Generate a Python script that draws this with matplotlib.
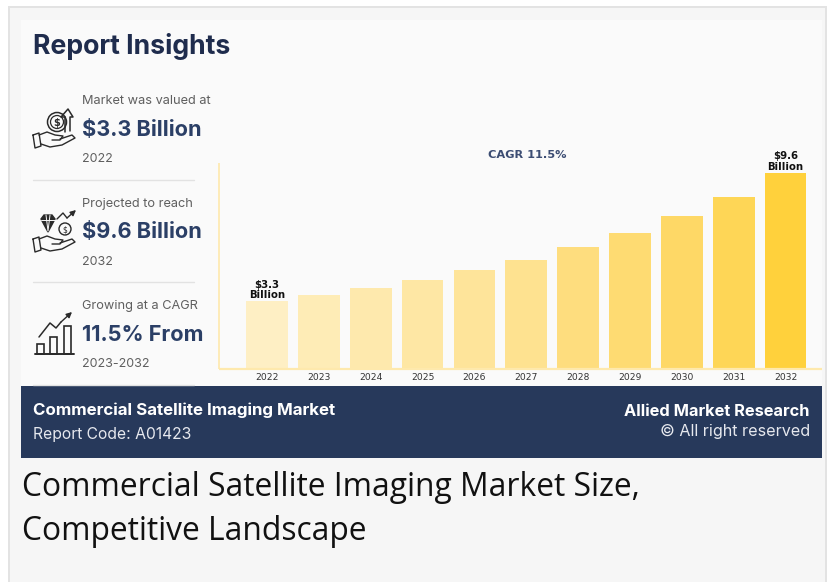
import matplotlib
matplotlib.use('Agg')
import matplotlib.pyplot as plt
from matplotlib.patches import Rectangle, Circle

W, H = 836, 582

years = ['2022', '2023', '2024', '2025', '2026', '2027', '2028', '2029', '2030', '2031', '2032']
market_size = [3.3, 3.6, 3.96, 4.34, 4.83, 5.32, 5.96, 6.68, 7.5, 8.43, 9.6]
bar_colors = ['#feefc4', '#feecb6', '#fee9ad', '#fee7a4', '#fee49a', '#fee290',
              '#fedd7e', '#fedb72', '#fed866', '#fed656', '#ffd13c']
value_labels = {0: '$3.3\nBillion', 10: '$9.6\nBillion'}

stat_captions = ['Market was valued at', 'Projected to reach', 'Growing at a CAGR']
stat_values = ['$3.3 Billion', '$9.6 Billion', '11.5% From']
stat_periods = ['2022', '2032', '2023-2032']

NAVY = '#27395b'
AXIS_YELLOW = '#fee9ad'
UI_FONT = ['Inter', 'DejaVu Sans']


def px_axes(fig, left, top, right, bottom):
    # axes box given in pixels from the top left corner
    return fig.add_axes([left / W, 1 - bottom / H, (right - left) / W, (bottom - top) / H])


def line(ax, pts, lw=1.0, color='#2a2a2a'):
    ax.plot([p[0] for p in pts], [p[1] for p in pts], color=color, lw=lw,
            solid_capstyle='round', solid_joinstyle='round')


def arrow(ax, tail, tip, color='#2a2a2a', lw=1.0):
    ax.annotate('', xy=tip, xytext=tail,
                arrowprops=dict(arrowstyle='-|>', color=color, lw=lw, mutation_scale=8,
                                shrinkA=0, shrinkB=0))


def open_hand(ax, dy):
    # outline of the open palm used by the two money icons
    line(ax, [(33, 135 + dy), (35, 148 + dy), (41, 146 + dy), (39, 133 + dy), (33, 135 + dy)])
    line(ax, [(39, 135 + dy), (47, 132 + dy), (55, 135 + dy), (63, 136 + dy), (60, 140 + dy), (52, 140 + dy)])
    line(ax, [(60, 139 + dy), (72, 135 + dy), (75, 138 + dy), (62, 145 + dy), (50, 147 + dy), (41, 144 + dy)])


def draw_icons(ax):
    # coin with an arrow over a hand
    open_hand(ax, 0)
    ax.add_patch(Circle((57, 122), 9.5, fc='none', ec='#2a2a2a', lw=1.1))
    ax.add_patch(Circle((57, 122), 6.5, fc='none', ec='#2a2a2a', lw=0.9))
    ax.text(57, 122.5, '$', fontsize=7, fontweight='bold', ha='center', va='center', color='#2a2a2a')
    line(ax, [(65, 132), (65, 117), (61, 117), (68, 109), (73, 117), (70, 117), (70, 131)], lw=1.1)

    # diamond, coin and rising arrow over a hand
    open_hand(ax, 104)
    ax.fill([41, 44, 52, 55, 48], [219, 215, 215, 219, 232], color='#2a2a2a')
    line(ax, [(41, 220), (55, 220)], lw=0.7, color='#fafafa')
    line(ax, [(46, 215), (48, 231), (50, 215)], lw=0.7, color='#fafafa')
    ax.add_patch(Circle((65, 229), 6, fc='none', ec='#2a2a2a', lw=1))
    ax.text(65, 229.5, '$', fontsize=5.5, ha='center', va='center', color='#2a2a2a')
    line(ax, [(57, 219), (63, 213), (67, 218)], lw=1)
    arrow(ax, (67, 218), (76, 210))

    # growth bars with a trend arrow
    line(ax, [(35, 354), (74, 354)], lw=1.4)
    for left, top in [(37, 344), (50, 337), (64, 326)]:
        ax.add_patch(Rectangle((left, top), 7, 354 - top, fc='none', ec='#2a2a2a', lw=1.2))
    line(ax, [(39, 337), (50, 323), (56, 328), (61, 322)], lw=1.1)
    arrow(ax, (61, 322), (72, 312))


fig = plt.figure(figsize=(W / 100, H / 100), dpi=100, facecolor='#f6f6f6')

# page chrome and text layer, working in pixels
page = px_axes(fig, 0, 0, W, H)
page.set_xlim(0, W)
page.set_ylim(H, 0)
page.axis('off')

page.add_patch(Rectangle((0, 0), W, H, fc='#ffffff', ec='none'))
page.add_patch(Rectangle((8, 6), 819, 576, fc='#e3e3e3', ec='none'))
page.add_patch(Rectangle((10, 8), 815, 574, fc='#f6f6f6', ec='none'))
page.add_patch(Rectangle((21, 20), 801, 366, fc='#fafafa', ec='none'))
page.add_patch(Rectangle((21, 386), 801, 72, fc=NAVY, ec='none'))

page.text(33, 46, 'Report Insights', fontsize=19.2, fontweight='bold', family=UI_FONT,
          color='#1f2c4d', va='center')

caption_y = [101, 204, 306]
value_y = [130, 232, 335]
period_y = [159, 262, 364]
for cap, val, per, cy, vy, py in zip(stat_captions, stat_values, stat_periods, caption_y, value_y, period_y):
    page.text(82, cy, cap, fontsize=9.2, family=UI_FONT, color='#5f5f5f', va='center')
    page.text(82, vy, val, fontsize=15.6, fontweight='bold', family=UI_FONT, color='#2b3f66', va='center')
    page.text(82, py, per, fontsize=9, family=UI_FONT, color='#5f5f5f', va='center')

for y in [180, 282, 385]:
    line(page, [(33, y), (194, y)], lw=1, color='#e2e2e2')

draw_icons(page)

page.text(33, 410, 'Commercial Satellite Imaging Market', fontsize=12.2, fontweight='bold',
          family=UI_FONT, color='#ffffff', va='center')
page.text(33, 434, 'Report Code: A01423', fontsize=11.3, family=UI_FONT, color='#e6e8ee', va='center')
page.text(810, 411, 'Allied Market Research', fontsize=11.8, fontweight='bold',
          family=UI_FONT, color='#ffffff', va='center', ha='right')
page.text(810, 431, '© All right reserved', fontsize=11.6, family=UI_FONT, color='#e6e8ee',
          va='center', ha='right')

page.text(22, 487, 'Commercial Satellite Imaging Market Size,', fontsize=22.9, family='Open Sans',
          color='#111111', va='center')
page.text(22, 531, 'Competitive Landscape', fontsize=22.9, family='Open Sans',
          color='#111111', va='center')

# bar chart; one year is 51.85 px wide and one billion 20.35 px tall
ax = px_axes(fig, 218.5, 163, 822, 368.5)
ax.patch.set_alpha(0)
ax.set_xlim((218.5 - 267) / 51.85, (822 - 267) / 51.85)
ax.set_ylim(0, 205.5 / 20.35)
x = list(range(len(years)))
bars = ax.bar(x, market_size, width=0.805, color=bar_colors, linewidth=0)

for i, text in value_labels.items():
    ax.annotate(text, (x[i], market_size[i]), xytext=(0, 1), textcoords='offset points',
                ha='center', va='bottom', fontsize=7.3, fontweight='bold', color='#111111',
                linespacing=1.05)

ax.text(0.511, 1.039, 'CAGR 11.5%', transform=ax.transAxes, ha='center', va='center',
        fontsize=8.2, fontweight='bold', color='#3c4d73')

for side in ['top', 'right']:
    ax.spines[side].set_visible(False)
for side in ['left', 'bottom']:
    ax.spines[side].set_color(AXIS_YELLOW)
    ax.spines[side].set_capstyle('butt')
ax.spines['left'].set_linewidth(1.2)
ax.spines['bottom'].set_linewidth(1.6)
ax.set_yticks([])
ax.set_xticks(x)
ax.set_xticklabels(years)
ax.tick_params(axis='x', length=0, pad=3, labelsize=6.6, labelcolor='#333333')

fig.savefig('out.png', dpi=100, facecolor=fig.get_facecolor())
